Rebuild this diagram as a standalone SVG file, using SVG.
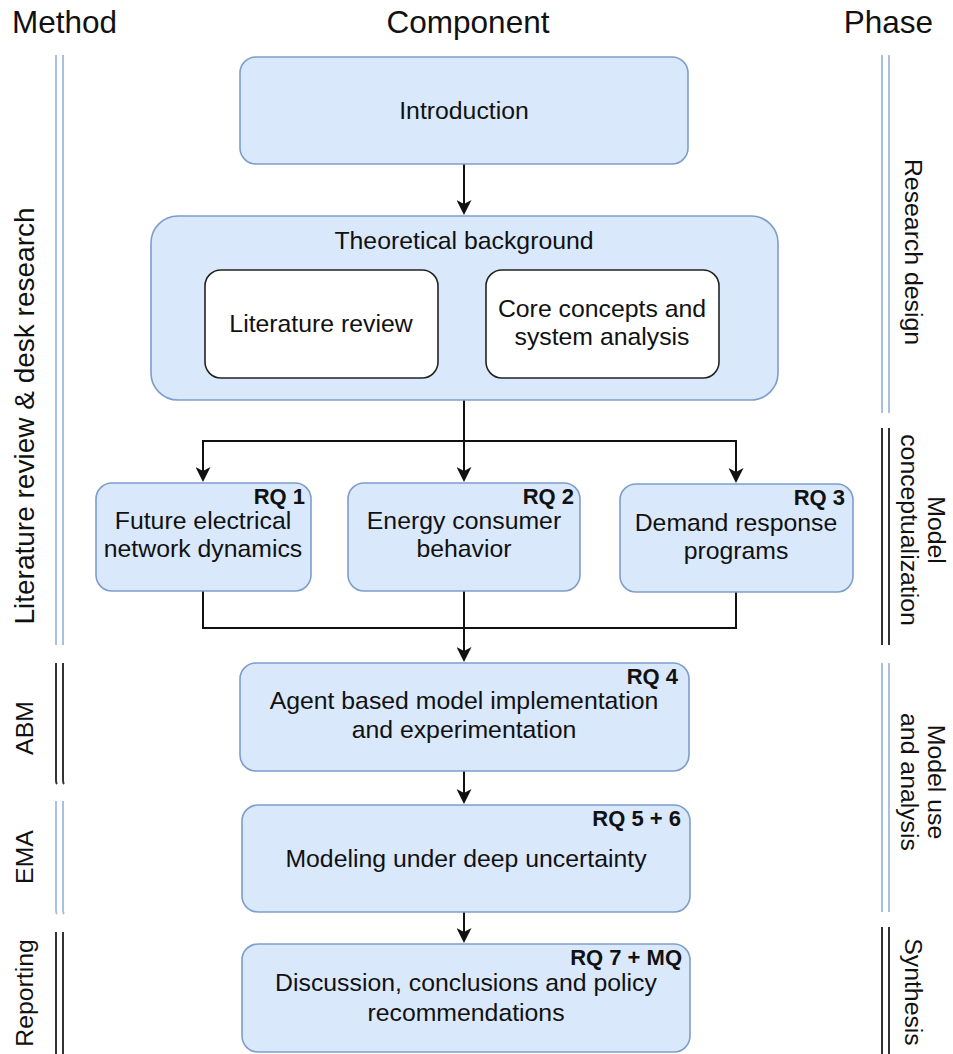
<svg xmlns="http://www.w3.org/2000/svg" width="953" height="1054" viewBox="0 0 953 1054">
  <style>
    text { font-family: "Liberation Sans", Arial, sans-serif; fill: #111; }
    .hdr { font-size: 31.5px; }
    .lbl { font-size: 24.8px; text-anchor: middle; }
    .side { font-size: 24.8px; text-anchor: middle; }
    .rq { font-size: 22px; font-weight: bold; text-anchor: end; }
    .box { fill: #dae8fc; stroke: #7d9dcb; stroke-width: 1.6; }
    .inner { fill: #ffffff; stroke: #222; stroke-width: 1.6; }
    .edge { fill: none; stroke: #111; stroke-width: 2; }
    .edge-arrow { fill: none; stroke: #111; stroke-width: 2; marker-end: url(#arrow); }
    .rail-blue { stroke: #a9c0e4; stroke-width: 2; fill: none; }
    .rail-dark { stroke: #333; stroke-width: 2; fill: none; }
  </style>
  <defs>
    <marker id="arrow" viewBox="0 0 15 15" refX="9" refY="7.5" markerWidth="15" markerHeight="15" markerUnits="userSpaceOnUse" orient="auto">
      <path d="M0,0 L15,7.5 L0,15 L4,7.5 Z" fill="#111"/>
    </marker>
  </defs>

  <rect width="953" height="1054" fill="#ffffff"/>

  <!-- column headers -->
  <g id="headers">
    <text class="hdr" x="12" y="33">Method</text>
    <text class="hdr" x="468" y="33" text-anchor="middle">Component</text>
    <text class="hdr" x="933" y="33" text-anchor="end">Phase</text>
  </g>

  <!-- method rails (left) -->
  <g id="method-rails">
    <path class="rail-blue" d="M56,55 V645 M63,55 V645"/>
    <path class="rail-dark" d="M56,663 V780 Q56,783 57,784 M63,663 V780 Q63,783 64,784"/>
    <path class="rail-blue" d="M56,801 V910 Q56,913 57,914 M63,801 V910 Q63,913 64,914"/>
    <path class="rail-dark" d="M56,932 V1054 M63,932 V1054"/>
  </g>
  <g id="method-labels">
    <text class="side" style="font-size:28px" transform="translate(24,416) rotate(-90)" y="10">Literature review &amp; desk research</text>
    <text class="side" transform="translate(24,728) rotate(-90)" y="9">ABM</text>
    <text class="side" transform="translate(24,857) rotate(-90)" y="9">EMA</text>
    <text class="side" transform="translate(24,993) rotate(-90)" y="9">Reporting</text>
  </g>

  <!-- phase rails (right) -->
  <g id="phase-rails">
    <path class="rail-blue" d="M882,55 V413 M889,55 V413"/>
    <path class="rail-dark" d="M882,428 V645 M889,428 V645"/>
    <path class="rail-blue" d="M882,663 V912 M889,663 V912"/>
    <path class="rail-dark" d="M882,927 V1054 M889,927 V1054"/>
  </g>
  <g id="phase-labels">
    <text class="side" transform="translate(914,252) rotate(90)" y="9">Research design</text>
    <text class="side" transform="translate(914,530) rotate(90)"><tspan x="0" y="-14">Model</tspan><tspan x="0" y="13">conceptualization</tspan></text>
    <text class="side" transform="translate(914,782) rotate(90)"><tspan x="0" y="-14">Model use</tspan><tspan x="0" y="13">and analysis</tspan></text>
    <text class="side" transform="translate(914,992) rotate(90)" y="9">Synthesis</text>
  </g>

  <!-- connectors -->
  <g id="connectors">
    <path class="edge-arrow" d="M464,164 V209"/>
    <path class="edge-arrow" d="M464,400 V441 H203 V476"/>
    <path class="edge-arrow" d="M464,400 V476"/>
    <path class="edge-arrow" d="M464,400 V441 H736 V477"/>
    <path class="edge" d="M203,591 V628 H464"/>
    <path class="edge" d="M736,592 V628 H464"/>
    <path class="edge-arrow" d="M464,591 V656"/>
    <path class="edge-arrow" d="M464,771 V798"/>
    <path class="edge-arrow" d="M464,912 V937"/>
  </g>

  <!-- nodes -->
  <g id="introduction">
    <rect class="box" x="240" y="57" width="448" height="107" rx="16"/>
    <text class="lbl" x="464" y="119">Introduction</text>
  </g>

  <g id="theoretical-background">
    <rect class="box" x="151" y="216" width="627" height="184" rx="27"/>
    <text class="lbl" x="464" y="249">Theoretical background</text>
  </g>

  <g id="literature-review">
    <rect class="inner" x="205" y="270" width="233" height="108" rx="16"/>
    <text class="lbl" x="321" y="332">Literature review</text>
  </g>

  <g id="core-concepts">
    <rect class="inner" x="486" y="270" width="233" height="108" rx="16"/>
    <text class="lbl" x="602" y="317">Core concepts and</text>
    <text class="lbl" x="602" y="345">system analysis</text>
  </g>

  <g id="rq1-network">
    <rect class="box" x="96" y="483" width="215" height="108" rx="16"/>
    <text class="rq" x="305" y="504">RQ 1</text>
    <text class="lbl" x="203" y="529">Future electrical</text>
    <text class="lbl" x="203" y="557">network dynamics</text>
  </g>

  <g id="rq2-consumer">
    <rect class="box" x="348" y="483" width="232" height="108" rx="16"/>
    <text class="rq" x="574" y="504">RQ 2</text>
    <text class="lbl" x="464" y="529">Energy consumer</text>
    <text class="lbl" x="464" y="557">behavior</text>
  </g>

  <g id="rq3-demand-response">
    <rect class="box" x="620" y="484" width="233" height="108" rx="16"/>
    <text class="rq" x="845" y="505">RQ 3</text>
    <text class="lbl" x="736" y="531">Demand response</text>
    <text class="lbl" x="736" y="559">programs</text>
  </g>

  <g id="rq4-abm">
    <rect class="box" x="240" y="663" width="449" height="108" rx="16"/>
    <text class="rq" x="678" y="684">RQ 4</text>
    <text class="lbl" x="464" y="709">Agent based model implementation</text>
    <text class="lbl" x="464" y="738">and experimentation</text>
  </g>

  <g id="rq56-uncertainty">
    <rect class="box" x="242" y="805" width="448" height="107" rx="16"/>
    <text class="rq" x="681" y="826">RQ 5 + 6</text>
    <text class="lbl" x="466" y="867">Modeling under deep uncertainty</text>
  </g>

  <g id="rq7-synthesis">
    <rect class="box" x="242" y="944" width="448" height="108" rx="16"/>
    <text class="rq" x="682" y="965">RQ 7 + MQ</text>
    <text class="lbl" x="466" y="991">Discussion, conclusions and policy</text>
    <text class="lbl" x="466" y="1021">recommendations</text>
  </g>
</svg>
